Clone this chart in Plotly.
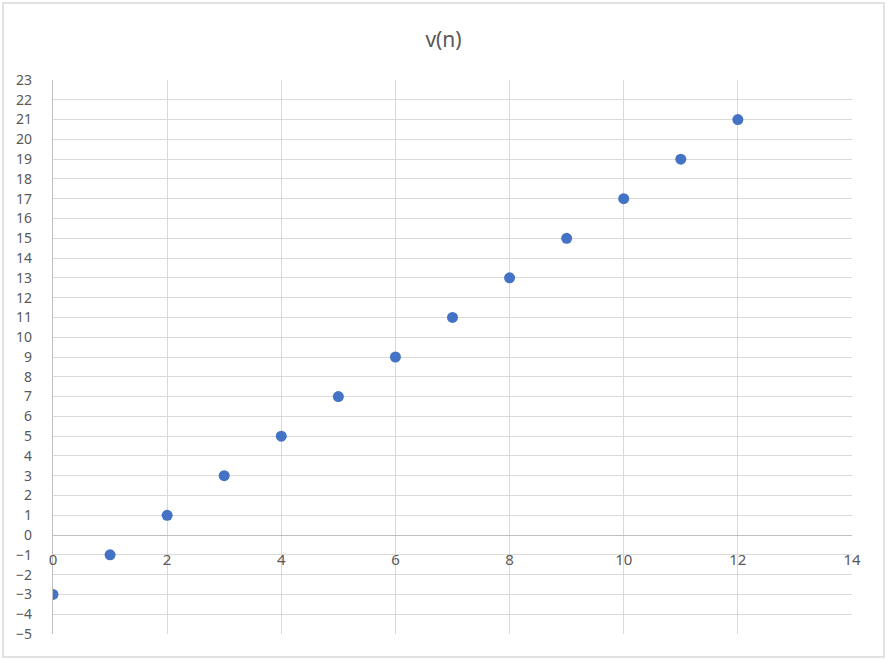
import plotly.graph_objects as go

n_values = [0, 1, 2, 3, 4, 5, 6, 7, 8, 9, 10, 11, 12]
v_values = [-3, -1, 1, 3, 5, 7, 9, 11, 13, 15, 17, 19, 21]

y_min, y_max = -5, 23
x_min, x_max = 0, 14

grid = "#d9d9d9"
text_col = "#595959"

fig = go.Figure(
    data=go.Scatter(
        x=n_values,
        y=v_values,
        mode="markers",
        marker=dict(color="#4472C4", size=11),
        name="v(n)",
    ),
    layout=go.Layout(
        title=dict(text="v(n)", x=0.5, xanchor="center", y=0.951,
                   font=dict(size=21, color=text_col)),
        width=887, height=660,
        margin=dict(l=53, r=35, t=80, b=26),
        paper_bgcolor="white", plot_bgcolor="white",
        font=dict(family="Noto Sans", size=14, color=text_col),
        showlegend=False,
    ),
)

# x axis crosses at y = 0, like excel does it
fig.update_xaxes(
    range=[x_min, x_max], dtick=2, tick0=0,
    showgrid=True, gridcolor=grid, gridwidth=1.3,
    zeroline=False, showline=True, linecolor="#bfbfbf", linewidth=1.3,
    anchor="free", position=(0 - y_min) / (y_max - y_min),
    ticks="", ticklabelstandoff=11,
    tickfont=dict(size=15),
)
fig.update_yaxes(
    range=[y_min, y_max], dtick=1, tick0=0,
    showgrid=True, gridcolor=grid, gridwidth=1.3,
    zeroline=False, showline=True, linecolor="#bfbfbf", linewidth=1.3,
    ticks="", ticklabelstandoff=17,
)

# outer chart border
fig.add_shape(type="rect", xref="paper", yref="paper",
              x0=-50 / 799, x1=831 / 799, y0=-23 / 554, y1=631 / 554,
              line=dict(color="#d9d9d9", width=1.5), fillcolor="rgba(0,0,0,0)",
              layer="below")

# drop the default body margin so the chart sits at the window corner
fig.write_html("out.html", config={"displayModeBar": False},
               post_script="document.body.style.margin='0';")
